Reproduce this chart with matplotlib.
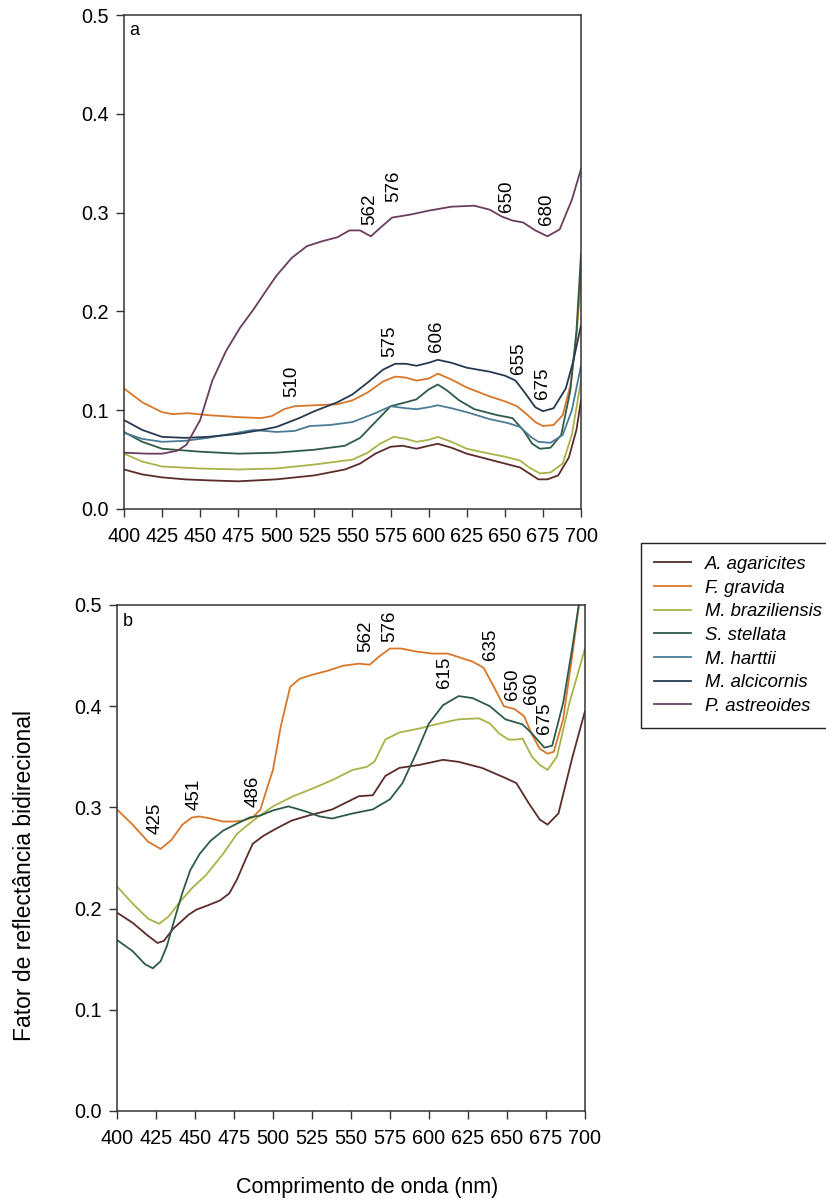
import matplotlib
matplotlib.use("Agg")
import matplotlib.pyplot as plt
from matplotlib.ticker import FormatStrFormatter

plt.rcParams["font.family"] = ["Liberation Sans", "DejaVu Sans"]

# species, colours (legend order)
species = ["A. agaricites", "F. gravida", "M. braziliensis", "S. stellata",
           "M. harttii", "M. alcicornis", "P. astreoides"]
colors = ["#5b2c2a", "#d8772a", "#a9b347", "#2e5b48", "#4b7c96", "#263a52", "#6b3d5e"]

# ---- panel a: wavelength (nm) / reflectance
wl_a_aga = [400, 412, 425, 440, 455, 475, 500, 525, 545, 555, 565, 575, 583, 592, 600, 606, 615, 625,
            640, 650, 660, 666, 672, 678, 685, 692, 697, 700]
a_aga = [0.040, 0.035, 0.032, 0.030, 0.029, 0.028, 0.030, 0.034, 0.040, 0.046, 0.056, 0.063, 0.064, 0.061,
         0.064, 0.066, 0.062, 0.056, 0.050, 0.046, 0.042, 0.036, 0.030, 0.030, 0.034, 0.052, 0.080, 0.110]

wl_a_fgr = [400, 412, 425, 432, 442, 455, 475, 490, 497, 505, 512, 525, 540, 550, 560, 570, 578, 585,
            592, 600, 606, 615, 625, 640, 650, 658, 665, 670, 675, 682, 688, 693, 697, 700]
a_fgr = [0.122, 0.108, 0.098, 0.096, 0.097, 0.095, 0.093, 0.092, 0.094, 0.101, 0.104, 0.105, 0.106, 0.110,
         0.118, 0.129, 0.134, 0.133, 0.130, 0.132, 0.137, 0.131, 0.123, 0.114, 0.109, 0.104, 0.095, 0.088,
         0.084, 0.085, 0.095, 0.125, 0.175, 0.235]

wl_a_mbr = [400, 412, 425, 450, 475, 500, 525, 550, 560, 568, 577, 585, 592, 600, 606, 615, 625, 640,
            650, 660, 666, 673, 680, 688, 694, 700]
a_mbr = [0.056, 0.048, 0.043, 0.041, 0.040, 0.041, 0.045, 0.050, 0.057, 0.066, 0.073, 0.071, 0.068, 0.070,
         0.073, 0.068, 0.061, 0.056, 0.053, 0.049, 0.042, 0.036, 0.037, 0.046, 0.075, 0.130]

wl_a_sst = [400, 412, 425, 450, 475, 500, 525, 545, 555, 565, 575, 585, 592, 600, 606, 612, 620, 630,
            645, 655, 662, 668, 673, 680, 687, 693, 697, 700]
a_sst = [0.078, 0.068, 0.061, 0.058, 0.056, 0.057, 0.060, 0.064, 0.072, 0.088, 0.104, 0.108, 0.111, 0.121,
         0.126, 0.120, 0.110, 0.101, 0.095, 0.092, 0.080, 0.066, 0.061, 0.062, 0.075, 0.120, 0.180, 0.258]

wl_a_mha = [400, 412, 425, 440, 455, 470, 485, 500, 512, 522, 535, 550, 565, 575, 585, 592, 600, 606,
            615, 625, 640, 652, 660, 667, 672, 680, 688, 694, 700]
a_mha = [0.077, 0.071, 0.068, 0.069, 0.072, 0.076, 0.080, 0.078, 0.079, 0.084, 0.085, 0.088, 0.097, 0.104,
         0.102, 0.101, 0.103, 0.105, 0.102, 0.098, 0.091, 0.087, 0.083, 0.073, 0.068, 0.067, 0.075, 0.100,
         0.145]

wl_a_mal = [400, 412, 425, 440, 455, 475, 490, 500, 515, 525, 540, 550, 560, 570, 578, 585, 592, 600,
            606, 615, 625, 640, 650, 657, 663, 670, 675, 682, 690, 695, 700]
a_mal = [0.090, 0.080, 0.073, 0.072, 0.073, 0.076, 0.080, 0.083, 0.092, 0.099, 0.108, 0.116, 0.128, 0.141,
         0.147, 0.147, 0.145, 0.148, 0.151, 0.148, 0.143, 0.139, 0.135, 0.130, 0.118, 0.103, 0.099, 0.102,
         0.122, 0.150, 0.186]

wl_a_pas = [400, 415, 425, 435, 441, 450, 458, 467, 476, 485, 492, 500, 510, 520, 530, 540, 548, 555,
            562, 570, 576, 588, 600, 615, 630, 640, 648, 655, 662, 670, 678, 686, 694, 700]
a_pas = [0.057, 0.056, 0.056, 0.059, 0.065, 0.090, 0.130, 0.160, 0.183, 0.202, 0.218, 0.236, 0.254, 0.266,
         0.271, 0.275, 0.282, 0.282, 0.276, 0.287, 0.295, 0.298, 0.302, 0.306, 0.307, 0.303, 0.296, 0.292,
         0.290, 0.282, 0.276, 0.283, 0.313, 0.344]

# ---- panel b
wl_b_aga = [400, 410, 420, 426, 430, 436, 441, 446, 451, 458, 466, 472, 477, 482, 487, 494, 502, 512,
            523, 538, 555, 564, 572, 581, 594, 609, 619, 634, 649, 656, 664, 671, 676, 683, 692, 700]
b_aga = [0.196, 0.186, 0.173, 0.166, 0.168, 0.180, 0.187, 0.194, 0.199, 0.203, 0.208, 0.215, 0.229, 0.247,
         0.264, 0.272, 0.279, 0.287, 0.292, 0.298, 0.311, 0.312, 0.331, 0.339, 0.342, 0.347, 0.345, 0.339,
         0.329, 0.324, 0.304, 0.288, 0.283, 0.294, 0.350, 0.395]

wl_b_fgr = [400, 410, 420, 428, 435, 442, 448, 453, 460, 468, 475, 481, 487, 492, 496, 500, 505, 511,
            517, 525, 535, 545, 555, 562, 568, 575, 582, 592, 602, 612, 620, 628, 635, 642, 648, 655,
            661, 666, 671, 676, 680, 686, 692, 697, 700]
b_fgr = [0.298, 0.283, 0.266, 0.259, 0.268, 0.283, 0.290, 0.291, 0.289, 0.286, 0.286, 0.287, 0.290, 0.298,
         0.318, 0.337, 0.380, 0.419, 0.427, 0.431, 0.435, 0.440, 0.442, 0.441, 0.449, 0.457, 0.457, 0.454,
         0.452, 0.452, 0.448, 0.444, 0.438, 0.418, 0.400, 0.397, 0.390, 0.372, 0.358, 0.353, 0.355, 0.387,
         0.452, 0.510, 0.540]

wl_b_mbr = [400, 410, 420, 427, 433, 440, 448, 457, 468, 477, 489, 500, 513, 526, 538, 551, 560, 565,
            572, 581, 594, 607, 619, 632, 639, 645, 651, 656, 660, 666, 671, 676, 682, 690, 700]
b_mbr = [0.222, 0.205, 0.190, 0.185, 0.192, 0.206, 0.220, 0.233, 0.254, 0.274, 0.289, 0.301, 0.311, 0.319,
         0.327, 0.337, 0.340, 0.345, 0.367, 0.374, 0.378, 0.383, 0.387, 0.388, 0.383, 0.373, 0.367, 0.367,
         0.368, 0.350, 0.342, 0.337, 0.350, 0.403, 0.457]

wl_b_sst = [400, 410, 418, 423, 428, 432, 437, 442, 447, 453, 460, 468, 477, 485, 492, 500, 510, 521,
            530, 538, 551, 564, 575, 583, 592, 600, 609, 619, 628, 639, 649, 660, 666, 674, 679, 686,
            692, 696, 700]
b_sst = [0.169, 0.158, 0.145, 0.141, 0.148, 0.163, 0.190, 0.216, 0.238, 0.254, 0.267, 0.277, 0.284, 0.290,
         0.292, 0.297, 0.301, 0.296, 0.291, 0.289, 0.294, 0.298, 0.308, 0.324, 0.354, 0.383, 0.401, 0.410,
         0.408, 0.400, 0.387, 0.382, 0.373, 0.359, 0.361, 0.403, 0.459, 0.500, 0.540]

# peak labels: text, wavelength, reflectance at label centre
labels_a = [("562", 561.5, 0.303), ("576", 577, 0.327), ("650", 651, 0.317), ("680", 677.5, 0.303),
            ("510", 510, 0.129), ("575", 574.6, 0.170), ("606", 605, 0.175), ("655", 659, 0.153),
            ("675", 675, 0.127)]
labels_b = [("425", 424.5, 0.289), ("451", 449.7, 0.3125), ("486", 487, 0.316), ("562", 559.6, 0.469),
            ("576", 574.6, 0.479), ("615", 609.8, 0.433), ("635", 639.6, 0.461), ("650", 653.5, 0.422),
            ("660", 666, 0.418), ("675", 673.8, 0.388)]

series_a = [(wl_a_aga, a_aga), (wl_a_fgr, a_fgr), (wl_a_mbr, a_mbr), (wl_a_sst, a_sst),
            (wl_a_mha, a_mha), (wl_a_mal, a_mal), (wl_a_pas, a_pas)]
series_b = [(wl_b_aga, b_aga, 0), (wl_b_fgr, b_fgr, 1), (wl_b_mbr, b_mbr, 2), (wl_b_sst, b_sst, 3)]

fig = plt.figure(figsize=(8.26, 12.03), dpi=100)
ax_a = fig.add_axes([0.1501, 0.5769, 0.5533, 0.4106])
ax_b = fig.add_axes([0.1416, 0.0765, 0.5666, 0.4206])

handles = []
for (x, y), name, c in zip(series_a, species, colors):
    h, = ax_a.plot(x, y, color=c, lw=1.3, label=name)
    handles.append(h)
for x, y, i in series_b:
    ax_b.plot(x, y, color=colors[i], lw=1.3)

for ax, labs, tag in [(ax_a, labels_a, "a"), (ax_b, labels_b, "b")]:
    ax.set_xlim(400, 700)
    ax.set_ylim(0, 0.5)
    ax.set_xticks(range(400, 701, 25))
    ax.set_yticks([0, 0.1, 0.2, 0.3, 0.4, 0.5])
    ax.yaxis.set_major_formatter(FormatStrFormatter("%.1f"))
    ax.tick_params(direction="out", length=6, width=1, labelsize=14.3, color="#333333")
    ax.tick_params(axis="x", pad=7)
    ax.tick_params(axis="y", pad=5)
    for s in ax.spines.values():
        s.set_color("#333333")
        s.set_linewidth(1.1)
    for t, wx, wy in labs:
        ax.text(wx, wy, t, rotation=90, ha="center", va="center", fontsize=13.5)
    ax.text(0.012, 0.985, tag, transform=ax.transAxes, ha="left", va="top", fontsize=13)

fig.text(0.030, 0.272, "Fator de reflectância bidirecional", rotation=90,
         ha="center", va="center", fontsize=16.5)
fig.text(0.445, 0.0125, "Comprimento de onda (nm)", ha="center", va="center", fontsize=15.5)

leg = fig.legend(handles=handles, loc="upper left", bbox_to_anchor=(0.776, 0.5486),
                 borderaxespad=0, frameon=True, fancybox=False, framealpha=1,
                 edgecolor="#222222", prop={"style": "italic", "size": 13.3},
                 handlelength=2.0, handletextpad=0.75, labelspacing=0.36, borderpad=0.7)
leg.get_frame().set_linewidth(1.0)

fig.savefig("out.png", dpi=100)
print("saved out.png")
